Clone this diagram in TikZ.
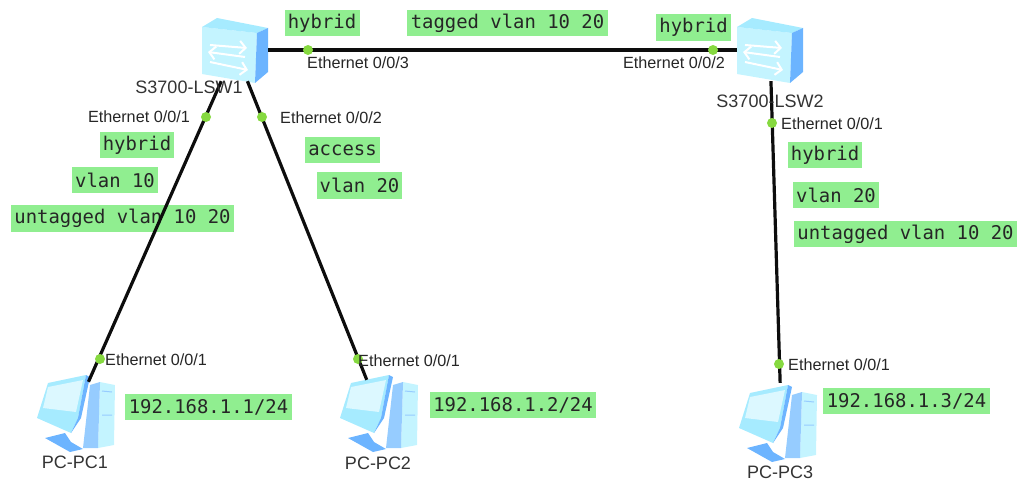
\documentclass[tikz,border=0pt]{standalone}
\usepackage{fontspec}
\setmainfont{Liberation Sans}
\setmonofont{DejaVu Sans Mono}
\usetikzlibrary{arrows.meta}

\definecolor{tagfill}{HTML}{90EE90}
\definecolor{portdot}{HTML}{86D940}
\definecolor{iconlight}{HTML}{C4F4FF}
\definecolor{icontop}{HTML}{A6EBFF}
\definecolor{iconblue}{HTML}{6CB4FF}
\definecolor{iconside}{HTML}{96CCFF}

\tikzset{
  tag/.style = {fill=tagfill, inner sep=0pt, minimum height=26.5pt, font=\ttfamily\fontsize{18.9}{19}\selectfont, text=black!85},
  port/.style = {circle, fill=portdot, inner sep=0pt, minimum size=10pt},
  portlabel/.style = {font=\fontsize{16.2}{17}\selectfont, text=black!85, inner sep=0pt},
  devlabel/.style = {font=\fontsize{18}{18}\selectfont, text=black!80, inner sep=0pt},
  swnode/.style = {minimum width=66pt, minimum height=62pt, inner sep=0pt},
  pcnode/.style = {minimum width=78pt, minimum height=56pt, inner sep=0pt},
  link/.style = {line width=3.2pt, black!95},
  swarrow/.style = {white, line width=2pt, -{Straight Barb[length=6pt,width=13pt]}},
  pics/swicon/.style = {code = {
    \fill[iconlight] (-33,-23) -- (22,-17) -- (20,33) -- (-33,24) -- cycle;
    \fill[icontop] (-33,-23) -- (-18,-32) -- (33,-22) -- (22,-17) -- cycle;
    \fill[iconblue] (22,-17) -- (33,-22) -- (33,22) -- (20,33) -- cycle;
    \draw[swarrow] (-25,-5) -- (12,-2);
    \draw[swarrow] (10,7) -- (-27,2);
    \draw[swarrow] (-25,12) -- (13,20);
  }},
  pics/pcicon/.style = {code = {
    \fill[iconlight] (24,-28) -- (39,-25) -- (38,35) -- (22,38) -- cycle;
    \fill[iconside] (14,-25) -- (24,-28) -- (22,38) -- (7,38) -- cycle;
    \draw[iconside, line width=1pt] (26,-19) -- (36,-18) (26,5) -- (36,5);
    \fill[iconblue] (-31,28) -- (-11,23) -- (-5,32) -- (7,39) -- (-6,42) -- cycle;
    \fill[icontop] (-28,-27) -- (10,-35) -- (2,8) -- (-5,23) -- (-39,8) -- cycle;
    \fill[iconblue] (10,-35) -- (14,-33) -- (5,8) -- (-5,23) -- (2,8) -- cycle;
    \fill[iconlight!60!white] (-28,-23) -- (7,-30) -- (0,2) -- (-33,-2) -- cycle;
  }}
}

\begin{document}
\begin{tikzpicture}[x=1pt, y=-1pt]
\useasboundingbox (0,0) rectangle (1027,484);

% devices
\node[swnode] (lsw1) at (235,50) {};
\node[swnode] (lsw2) at (770,50) {};
\node[pcnode] (pc1) at (76,410) {};
\node[pcnode] (pc2) at (378,408) {};
\node[pcnode] (pc3) at (781,411) {};

\pic at (235,50) {swicon};
\pic at (770,50) {swicon};
\pic at (76,410) {pcicon};
\pic at (379,410) {pcicon};
\pic at (778,420) {pcicon};

% green tags
\node[tag, minimum width=75pt] (t1) at (322,23) {hybrid};
\node[tag, minimum width=201pt] (t2) at (507.5,23) {tagged vlan 10 20};
\node[tag, minimum width=75pt] (t3) at (693.5,27.5) {hybrid};
\node[tag, minimum width=74pt] (t4) at (137,145) {hybrid};
\node[tag, minimum width=86pt] (t5) at (115,180) {vlan 10};
\node[tag, minimum width=223pt] (t6) at (122.5,218.5) {untagged vlan 10 20};
\node[tag, minimum width=75pt] (t7) at (342.5,150) {access};
\node[tag, minimum width=85pt] (t8) at (359.5,185.5) {vlan 20};
\node[tag, minimum width=74pt] (t9) at (825,155) {hybrid};
\node[tag, minimum width=86pt] (t10) at (836,195) {vlan 20};
\node[tag, minimum width=223pt] (t11) at (905.5,234) {untagged vlan 10 20};
\node[tag, minimum width=167pt] (t12) at (208.5,407) {192.168.1.1/24};
\node[tag, minimum width=166pt] (t13) at (513,405) {192.168.1.2/24};
\node[tag, minimum width=167pt] (t14) at (906.5,401) {192.168.1.3/24};

% links
\draw[link] (lsw1) -- (lsw2);
\draw[link] (lsw1) -- (pc1);
\draw[link] (lsw1) -- (pc2);
\draw[link] (lsw2) -- (pc3);

% ports
\node[port] (p1a) at (308,50) {};
\node[port] (p1b) at (206,117) {};
\node[port] (p1c) at (262,117) {};
\node[port] (p2a) at (713,50) {};
\node[port] (p2b) at (772,123) {};
\node[port] (p3) at (100,359) {};
\node[port] (p4) at (358,359) {};
\node[port] (p5) at (779,364) {};

\node[portlabel, anchor=west] (l1a) at (307,63) {Ethernet 0/0/3};
\node[portlabel, anchor=east] (l1b) at (190,117) {Ethernet 0/0/1};
\node[portlabel, anchor=west] (l1c) at (280,118) {Ethernet 0/0/2};
\node[portlabel, anchor=east] (l2a) at (725,63) {Ethernet 0/0/2};
\node[portlabel, anchor=west] (l2b) at (781,124) {Ethernet 0/0/1};
\node[portlabel, anchor=west] (l3) at (105,360) {Ethernet 0/0/1};
\node[portlabel, anchor=west] (l4) at (358,361) {Ethernet 0/0/1};
\node[portlabel, anchor=west] (l5) at (788,365) {Ethernet 0/0/1};

% device names
\node[devlabel] (n1) at (189,87) {S3700-LSW1};
\node[devlabel] (n2) at (770,101) {S3700-LSW2};
\node[devlabel] (n3) at (75,462) {PC-PC1};
\node[devlabel] (n4) at (378,463) {PC-PC2};
\node[devlabel] (n5) at (780,472) {PC-PC3};
\end{tikzpicture}
\end{document}
